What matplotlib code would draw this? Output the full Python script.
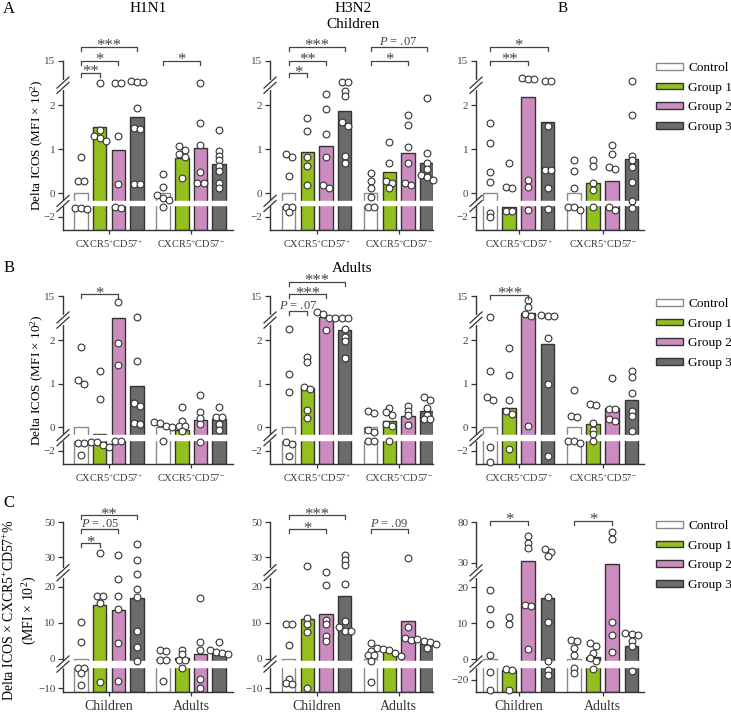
import numpy as np
import matplotlib.pyplot as plt
import matplotlib.transforms as mtransforms
from matplotlib.patches import Patch

plt.rcParams['font.family'] = ['Liberation Serif', 'DejaVu Serif']
plt.rcParams['mathtext.fontset'] = 'custom'
plt.rcParams['mathtext.rm'] = 'Liberation Serif'
plt.rcParams['mathtext.it'] = 'Liberation Serif:italic'
plt.rcParams['mathtext.default'] = 'regular'

W, H = 731, 714

groups = ['Control', 'Group 1', 'Group 2', 'Group 3']
colors = ['white', '#93c01f', '#cd8cc0', '#6b6b6b']
edges = ['#8a8a8a', '#333333', '#333333', '#333333']

subsets = [r'CXCR5$^{+}$CD57$^{+}$', r'CXCR5$^{+}$CD57$^{-}$']
ages = ['Children', 'Adults']

# ---- row A: children, delta ICOS (MFI x 10^2)
a1_bars = [[0, 1.50, 0.98, 1.74], [0, 0.80, 1.02, 0.67]]
a1_pts = [[[0.82, 0.27, 0.27, -1.33, -1.43, -1.33],
           [8.6, 1.43, 1.30, 1.26, 1.18],
           [8.6, 8.6, 1.31, 0.21, -1.33, -1.25],
           [8.9, 8.9, 9.1, 1.94, 1.48, 1.46, 0.20, 0.20]],
          [[0.44, 0.15, -0.04, -0.11, -0.15, -1.25],
           [0.99, 0.89, 1.07, 0.82, 0.35],
           [8.6, 1.60, 1.10, 0.47, 0.24, 0.24],
           [1.44, 0.95, 0.85, 0.76, 0.62, 0.50, 0.24, 0.12]]]

a2_bars = [[0, 0.93, 1.08, 1.86], [0, 0.48, 0.91, 0.69]]
a2_pts = [[[0.82, 0.89, 0.40, -1.25, -1.25, -1.63],
           [1.72, 1.41, 0.82, 0.61, 0.18],
           [5.2, 1.91, 1.34, 0.82, 0.12, 0.18],
           [8.9, 8.9, 6.1, 4.8, 1.54, 1.62, 0.84, 0.68]],
          [[0.45, 0.27, 0.11, -0.08, -1.25, -1.25],
           [1.16, 0.69, 0.27, 0.23, 0.11],
           [1.79, 1.56, 1.05, 0.69, 0.19, 0.24],
           [4.2, 0.91, 0.69, 0.56, 0.42, 0.36, 0.30]]]

a3_bars = [[0, -1.25, 4.3, 1.61], [0, 0.24, 0.28, 0.77]]
a3_pts = [[[1.60, 1.14, 0.47, 0.25, -1.7, -2.03],
           [0.68, 0.15, 0.11, -1.58, -1.58],
           [10.1, 9.6, 9.6, 0.30, 0.15, -1.53],
           [9.2, 9.2, 1.54, 0.52, 0.53, 0.11, -1.43]],
          [[0.76, 0.51, 0.11, -1.25, -1.5, -1.25],
           [0.76, 0.61, 0.24, 0.06, -1.3],
           [1.10, 0.88, 0.59, 0.54, -1.5, -1.3],
           [9.0, 1.79, 0.85, 0.76, 0.59, 0.25, -0.18, -1.38]]]

# ---- row B: adults
b1_bars = [[0, -0.16, 8.5, 0.94], [0, -0.05, 0.17, 0.18]]
b1_pts = [[[1.85, 1.0, 1.08, -1.43, -1.43, -2.3],
           [1.29, 0.65, -1.33, -1.33, -1.6, -1.7],
           [13.2, 1.94, 1.42, -1.25, -1.25],
           [8.7, 1.52, 0.56, 0.50, 0.08, 0.10]],
          [[0.12, 0.10, 0.04, 0.0, -1.25],
           [0.46, 0.14, 0.04, 0.03, -0.08],
           [0.75, 0.36, 0.22, 0.08, -1.38],
           [0.46, 0.23, 0.23, 0.08, -0.05]]]

b2_bars = [[0, 0.91, 8.8, 4.9], [0, 0.14, 0.25, 0.38]]
b2_pts = [[[5.2, 1.22, 0.82, -1.35, -1.53, -2.4],
           [1.61, 1.50, 0.89, 0.92, 0.40, 0.21],
           [10.3, 9.6, 8.6, 8.4, 5.0],
           [8.6, 8.4, 5.2, 2.9, 1.98, 1.59]],
          [[0.32, 0.38, -0.05, -0.11, -1.25, -1.25],
           [0.29, 0.45, 0.35, 0.08, 0.04, -1.25],
           [0.48, 0.28, 0.37, 0.05],
           [0.63, 0.69, 0.45, 0.28, 0.18, 0.18]]]

b3_bars = [[0, 0.45, 10.1, 1.92], [0, 0.08, 0.44, 0.62]]
b3_pts = [[[8.8, 1.28, 0.62, 0.69, -1.75, -2.83],
           [1.81, 1.19, 0.62, 0.37, 0.31, -1.85],
           [13.7, 11.8, 9.6, 9.0, 0.02],
           [9.2, 9.2, 9.4, 2.7, 1.0, -2.4]],
          [[0.86, 0.26, 0.23, -1.3, -1.4, -1.3],
           [0.54, 0.52, 0.09, -0.06, -0.15, -1.3],
           [1.13, 0.41, 0.41, 0.14, 0.18],
           [1.28, 1.15, 0.78, 0.38, 0.27, -0.08]]]

# ---- row C: delta ICOS x CXCR5+CD57+ %
c1_bars = [[0, 14.8, 13.5, 16.85], [0, 0.2, 1.3, 1.85]]
c1_pts = [[[10.2, 4.5, -4.4, -4.4, -5.8, -9.1],
           [32.3, 17.3, 17.3, 15.6, -8.4],
           [31.1, 22.6, 17.3, 13.9, 4.35, -7.95],
           [37.6, 29.1, 24.3, 19.3, 17.1, 7.6, 3.24, -0.56]],
          [[2.5, 2.2, -0.3, -0.3, -8.0],
           [2.5, 1.4, -0.3, -0.3, -4.4],
           [16.8, 4.5, 2.3, -7.4, -9.9],
           [4.5, 2.5, 1.8, 1.2, 1.5]]]

c2_bars = [[0, 11.0, 12.5, 17.5], [0, 2.0, 10.6, 4.35]]
c2_pts = [[[9.5, 9.7, 3.7, -7.4, -8.8, -8.6],
           [26.8, 11.2, 9.5, 7.3, -10.0],
           [25.0, 20.7, 10.8, 9.5, 6.4, 4.8],
           [31.3, 29.0, 27.4, 21.0, 10.5, 8.7, 7.8, 7.8]],
          [[4.4, 2.2, 0.9, 0.9, -0.6, -8.4],
           [3.0, 2.7, 2.4, 1.6, 0.7],
           [29.7, 8.8, 5.7, 5.3],
           [5.6, 4.8, 4.5, 4.2, 3.1]]]

c3_bars = [[0, -15.7, 32.5, 17.0], [0, 0.55, 29.4, 3.5]]
c3_pts = [[[19.3, 14.0, 9.6, 1.2, -16.3, -24.6],
           [11.7, 9.6, -15.1, -15.7, -24.6],
           [62.4, 54.6, 47.6, 15.1, 14.8, 2.9],
           [46.8, 42.7, 37.8, 17.2, 10.2, -0.6, -15.4, -17.7]],
          [[5.4, 4.9, 3.1, 1.0, -14.7, -16.9],
           [4.5, 3.7, 1.7, 0.2, -0.5, -15.1],
           [67.7, 59.4, 10.4, 6.6, 1.9],
           [7.2, 7.0, 6.8, 4.9, 3.7, -16.0]]]

# broken axes: piecewise linear (value nodes, display nodes)
scale_ab = ([-100, -3, -2, -1.2, -0.2, 0, 2, 15, 100],
            [-30.4, -0.84, -0.534, -0.29, -0.2, 0, 2, 3.01, 9.6])
scale_c = ([-100, -11.5, -4.1, -0.75, 0, 20, 30, 50, 200],
           [-98.15, -9.65, -2.25, -0.75, 0, 20, 28.24, 37.96, 110.9])
scale_c3 = ([-200, -25.7, -20, -14.3, -0.65, 0, 20, 30, 80, 300],
            [-113.7, -9.16, -5.74, -2.32, -0.65, 0, 20, 26.76, 38.06, 87.8])

fig = plt.figure(figsize=(W / 100, H / 100), dpi=100)

row_px = {'A': (61, 230), 'B': (296, 464), 'C': (522, 692)}
col_px = [(63, 170), (270, 163), (476, 168)]
col_xlim = [(-0.56, 1.51), (-0.57, 1.42), (-0.51, 1.49)]

offs = np.array([-1.5, -0.5, 0.5, 1.5]) * 0.228
bar_w = 0.165
ink = '#333333'


def make_scale(nodes):
    v, d = np.array(nodes[0], float), np.array(nodes[1], float)
    return (lambda x: np.interp(x, v, d), lambda y: np.interp(y, d, v))


def place_points(ax, xc, vals, d=6.4):
    bb = ax.get_window_extent()
    x0, x1 = ax.get_xlim()
    upp = (x1 - x0) / bb.width
    vals = np.sort(np.asarray(vals, float))[::-1]
    ys = ax.transData.transform(np.column_stack([np.full(len(vals), xc), vals]))[:, 1]
    xs = np.full(len(vals), xc, float)
    i = 0
    while i < len(vals):
        j = i + 1
        while j < len(vals) and ys[j - 1] - ys[j] < 0.6 * d:
            j += 1
        n = j - i
        xs[i:j] = xc + (np.arange(n) - (n - 1) / 2) * d * 0.95 * upp
        i = j
    return xs, vals


def break_mark(ax, v, cut):
    bb = ax.get_window_extent()
    yf = (ax.transData.transform((0, v))[1] - bb.y0) / bb.height
    if cut:
        ax.plot([0, 0], [yf - 3 / bb.height, yf + 3 / bb.height], transform=ax.transAxes,
                color='white', lw=3, clip_on=False, zorder=4)
    for dy in (-2.6, 2.6):
        ax.plot(np.array([-6, 6]) / bb.width, yf + (np.array([-5.5, 5.5]) + dy) / bb.height,
                transform=ax.transAxes, color=ink, lw=0.9, clip_on=False, zorder=4.5)


def bracket(ax, g, i1, i2, yf, label):
    h = ax.get_window_extent().height
    tr = mtransforms.blended_transform_factory(ax.transData, ax.transAxes)
    x1, x2 = g + offs[i1], g + offs[i2]
    dr = 4 / h
    ax.plot([x1, x1, x2, x2], [yf - dr, yf, yf, yf - dr], transform=tr,
            color='#444444', lw=0.9, clip_on=False, zorder=6)
    if label.startswith('P'):
        ax.text((x1 + x2) / 2, yf + 2 / h, r'$\mathit{P}$' + label[1:], transform=tr,
                ha='center', va='baseline', fontsize=9, color='#444444')
    else:
        ax.text((x1 + x2) / 2, yf - 3.5 / h, label, transform=tr,
                ha='center', va='baseline', fontsize=12, color='#444444')


panels = [
    ('A', 0, a1_bars, a1_pts, scale_ab, (-3, 15), [-2, 0, 1, 2, 15], (-1.1, -0.18), (-0.6, 7.9), subsets,
     [(0, 0, 1, 0.931, '**'), (0, 0, 2, 1.0, '*'), (0, 0, 3, 1.085, '***'), (1, 0, 2, 1.0, '*')]),
    ('A', 1, a2_bars, a2_pts, scale_ab, (-3, 15), [-2, 0, 1, 2, 15], (-1.1, -0.18), (-0.6, 7.9), subsets,
     [(0, 0, 1, 0.927, '*'), (0, 0, 2, 1.0, '**'), (0, 0, 3, 1.085, '***'),
      (1, 0, 2, 1.0, '*'), (1, 0, 3, 1.085, 'P = .07')]),
    ('A', 2, a3_bars, a3_pts, scale_ab, (-3, 15), [-2, 0, 1, 2, 15], (-1.1, -0.18), (-0.6, 7.9), subsets,
     [(0, 0, 2, 1.0, '**'), (0, 0, 3, 1.085, '*')]),
    ('B', 0, b1_bars, b1_pts, scale_ab, (-3, 15), [-2, 0, 1, 2, 15], (-1.1, -0.18), (-0.6, 7.9), subsets,
     [(0, 0, 2, 1.01, '*')]),
    ('B', 1, b2_bars, b2_pts, scale_ab, (-3, 15), [-2, 0, 1, 2, 15], (-1.1, -0.18), (-0.6, 7.9), subsets,
     [(0, 0, 1, 0.912, 'P = .07'), (0, 0, 2, 1.01, '***'), (0, 0, 3, 1.085, '***')]),
    ('B', 2, b3_bars, b3_pts, scale_ab, (-3, 15), [-2, 0, 1, 2, 15], (-1.1, -0.18), (-0.6, 7.9), subsets,
     [(0, 0, 2, 1.006, '***')]),
    ('C', 0, c1_bars, c1_pts, scale_c, (-11.1, 50), [-10, 0, 10, 20, 30, 50], (-4.05, -0.8), (-2.4, 24.7), ages,
     [(0, 0, 1, 0.875, '*'), (0, 0, 2, 0.959, 'P = .05'), (0, 0, 3, 1.041, '**')]),
    ('C', 1, c2_bars, c2_pts, scale_c, (-11.1, 50), [-10, 0, 10, 20, 30, 50], (-4.05, -0.8), (-2.4, 24.7), ages,
     [(0, 0, 2, 0.957, '*'), (0, 0, 3, 1.041, '***'), (1, 0, 2, 0.957, 'P = .09')]),
    ('C', 2, c3_bars, c3_pts, scale_c3, (-25.7, 80), [-20, 0, 10, 20, 30, 80], (-14.2, -0.7), (-6.7, 25.8), ages,
     [(0, 0, 2, 1.006, '*'), (1, 0, 2, 1.006, '*')]),
]

for row, col, bars, pts, sc, ylim, yticks, gap, brk, xlabels, brackets in panels:
    top, bot = row_px[row]
    left, width = col_px[col]
    ax = fig.add_axes([left / W, 1 - bot / H, width / W, (bot - top) / H])
    ax.set_yscale('function', functions=make_scale(sc))
    ax.set_ylim(*ylim)
    ax.set_xlim(*col_xlim[col])
    for g in range(2):
        for i in range(4):
            ax.bar(g + offs[i], bars[g][i] - ylim[0], bottom=ylim[0], width=bar_w,
                   color=colors[i], edgecolor=edges[i], linewidth=1.0, zorder=2)
    ax.axhspan(gap[0], gap[1], xmin=-0.03, xmax=1.0, color='white', zorder=3, clip_on=False)
    for g in range(2):
        for i in range(4):
            xs, vs = place_points(ax, g + offs[i], pts[g][i])
            ax.scatter(xs, vs, s=24, facecolor='white', edgecolor=ink, linewidth=0.8,
                       zorder=5, clip_on=False)
    break_mark(ax, brk[0], False)
    break_mark(ax, brk[1], True)
    for b in brackets:
        bracket(ax, *b)
    for s in ['top', 'right']:
        ax.spines[s].set_visible(False)
    for s in ['left', 'bottom']:
        ax.spines[s].set_color(ink)
        ax.spines[s].set_linewidth(1.0)
    ax.set_yticks(yticks)
    ax.set_yticklabels([f'{t}' if t >= 0 else f'\u2212{-t}' for t in yticks])
    ax.set_xticks([0, 1])
    ax.set_xticklabels(xlabels, fontsize=10 if row == 'C' else 7.5)
    ax.tick_params(axis='y', labelsize=8, length=3.5, width=0.9, color=ink, labelcolor='#444444', pad=2)
    ax.tick_params(axis='x', length=3, width=0.9, color=ink, labelcolor='#333333', pad=3)

# axis labels
ylab = r'Delta ICOS (MFI $\times$ 10$^{2}$)'
for row in ['A', 'B']:
    top, bot = row_px[row]
    fig.text(37 / W, 1 - (top + bot) / 2 / H, ylab, rotation=90, ha='center', va='center', fontsize=9.5)
top, bot = row_px['C']
fig.text(20 / W, 1 - (top + bot + 6) / 2 / H,
         'Delta ICOS $\\times$ CXCR5$^{+}$CD57$^{+}$%\n(MFI $\\times$ 10$^{2}$)',
         rotation=90, ha='center', va='center', fontsize=10, linespacing=1.3)

# titles and panel letters
for x, y, s in [(148, 9, 'H1N1'), (353, 9, 'H3N2'), (353, 24, 'Children'), (563, 9, 'B'),
                (352, 268, 'Adults')]:
    fig.text(x / W, 1 - y / H, s, ha='center', va='center', fontsize=11)
for y, s in [(9, 'A'), (268, 'B'), (503, 'C')]:
    fig.text(9 / W, 1 - y / H, s, ha='center', va='center', fontsize=12)

# legends
handles = [Patch(facecolor=c, edgecolor=e, linewidth=1.0) for c, e in zip(colors, edges)]
for y in [62, 298, 520]:
    fig.legend(handles, groups, loc='upper left', bbox_to_anchor=(656 / W, 1 - y / H),
               frameon=False, fontsize=9.5, handlelength=2.05, handleheight=0.42,
               labelspacing=0.58, handletextpad=0.38, borderpad=0, borderaxespad=0)

fig.savefig('out.png', dpi=100)
